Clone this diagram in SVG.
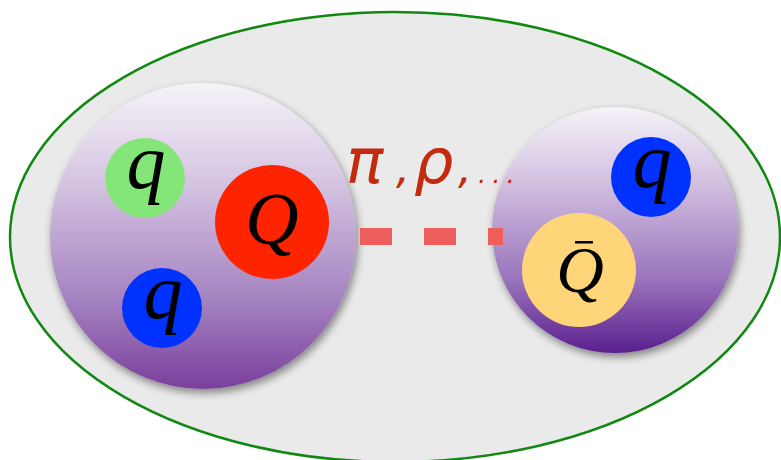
<svg xmlns="http://www.w3.org/2000/svg" width="781" height="460" viewBox="0 0 781 460">
<defs>
<linearGradient id="gL" x1="0" y1="0" x2="0" y2="1">
<stop offset="0" stop-color="#F5F3F8"/>
<stop offset="0.3" stop-color="#D8C8E3"/>
<stop offset="0.7" stop-color="#A584C1"/>
<stop offset="1" stop-color="#7A3F9C"/>
</linearGradient>
<linearGradient id="gR" x1="0" y1="0" x2="0" y2="1">
<stop offset="0" stop-color="#F5F3F8"/>
<stop offset="0.3" stop-color="#D3C1E1"/>
<stop offset="0.7" stop-color="#9A74BC"/>
<stop offset="1" stop-color="#5A1F8F"/>
</linearGradient>
<filter id="sh" x="-20%" y="-20%" width="140%" height="140%">
<feGaussianBlur in="SourceAlpha" stdDeviation="4"/>
<feOffset dx="2" dy="4"/>
<feComponentTransfer><feFuncA type="linear" slope="0.45"/></feComponentTransfer>
<feMerge><feMergeNode/><feMergeNode in="SourceGraphic"/></feMerge>
</filter>
<style>
.lbl{font-family:"Liberation Serif",serif;font-style:italic;fill:#000;text-anchor:middle}
.q{font-size:78px}
.Q{font-size:74px}
.Qb{font-size:66px}
.greek{font-family:"DejaVu Sans","Liberation Sans",sans-serif;font-style:italic;fill:#C32A0E}
.dash{fill:#EE5E5A}
</style>
</defs>
<rect width="781" height="460" fill="#FFFFFF"/>
<g id="container">
<ellipse cx="395" cy="237" rx="385" ry="225" fill="#EAEAEA" stroke="#118811" stroke-width="2.5"/>
</g>
<g id="left-hadron">
<circle cx="203" cy="236" r="153" fill="url(#gL)" filter="url(#sh)"/>
</g>
<g id="right-hadron">
<circle cx="615" cy="230" r="123" fill="url(#gR)" filter="url(#sh)"/>
</g>
<g id="q-green">
<circle cx="145" cy="178" r="40" fill="#84E679"/>
<text class="lbl q" x="146" y="188">q</text>
</g>
<g id="Q-red">
<circle cx="272" cy="222" r="57" fill="#FF2400"/>
<text class="lbl Q" x="272" y="244">Q</text>
</g>
<g id="q-blue-left">
<circle cx="162" cy="308" r="40" fill="#0032FF"/>
<text class="lbl q" x="163" y="318">q</text>
</g>
<g id="q-blue-right">
<circle cx="651" cy="177" r="40" fill="#0032FF"/>
<text class="lbl q" x="652" y="187">q</text>
</g>
<g id="Qbar-yellow">
<circle cx="579" cy="270" r="57" fill="#FFD57A"/>
<text class="lbl Qb" x="580" y="292">Q</text>
<rect x="575" y="241" width="18" height="2.5" fill="#000"/>
</g>
<g id="connectors">
<rect class="dash" x="360" y="228" width="32" height="17"/>
<rect class="dash" x="424" y="228" width="32" height="17"/>
<rect class="dash" x="488" y="228" width="15" height="17"/>
</g>
<g id="exchange-label">
<text class="greek" x="346" y="183" font-size="62">π</text>
<text class="greek" x="396" y="183" font-size="44">,</text>
<text class="greek" x="414" y="183" font-size="62">ρ</text>
<text class="greek" x="458" y="183" font-size="44">,</text>
<text class="greek" x="478" y="183" font-size="26" letter-spacing="6">...</text>
</g>
</svg>
